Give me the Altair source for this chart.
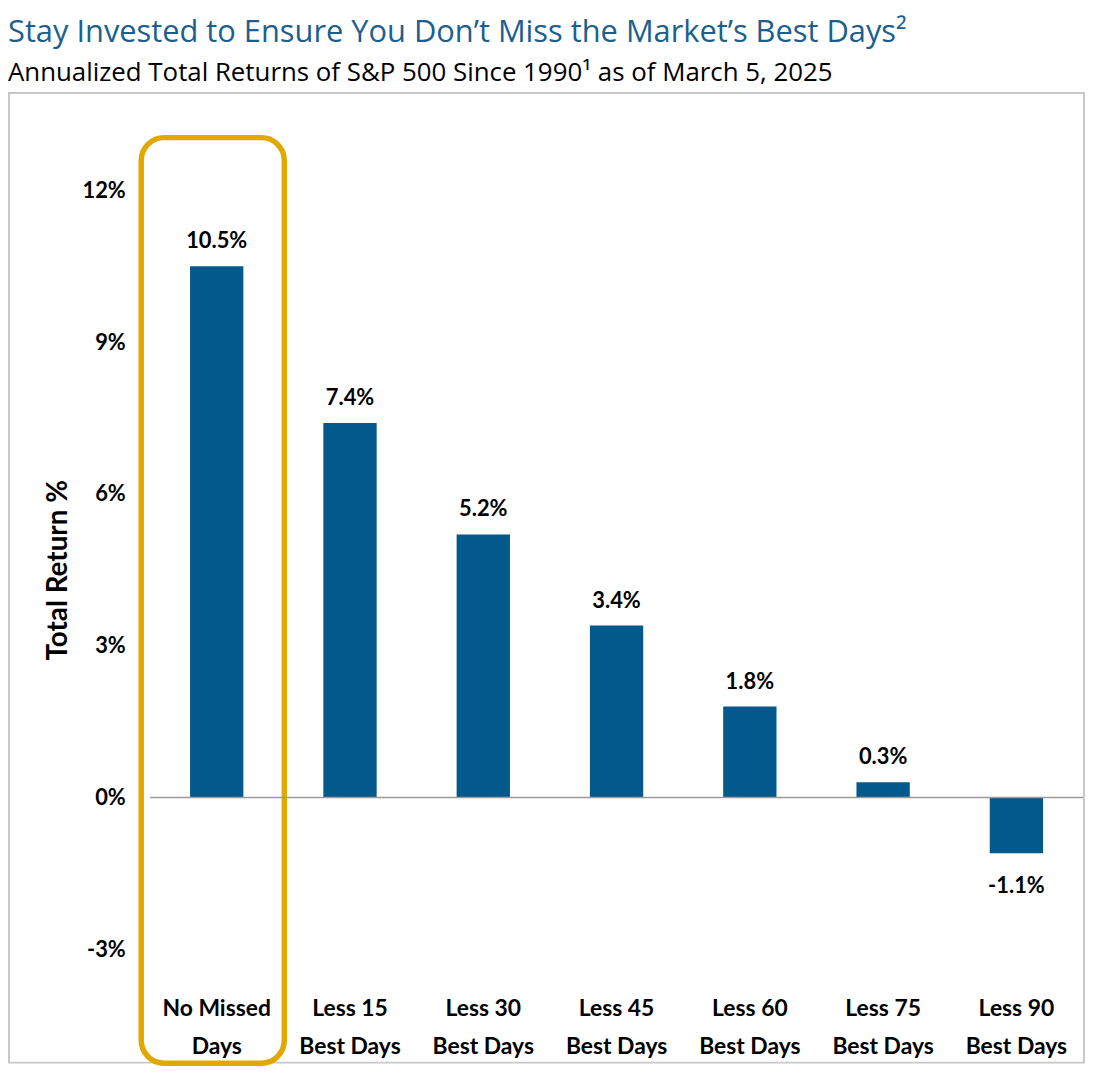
import altair as alt
import pandas as pd

categories = ["No Missed Days", "Less 15 Best Days", "Less 30 Best Days",
              "Less 45 Best Days", "Less 60 Best Days", "Less 75 Best Days",
              "Less 90 Best Days"]
returns = [10.5, 7.4, 5.2, 3.4, 1.8, 0.3, -1.1]
y_ticks = [-3, 0, 3, 6, 9, 12]

df = pd.DataFrame({"category": categories, "ret": returns})
df["label"] = [f"{v:.1f}%" for v in returns]

FONT = "Lato"
TFONT = "Open Sans"
BLUE = "#03598c"
GOLD = "#e0a800"
TITLE_BLUE = "#1c5f8e"

x_enc = alt.X(
    "category:N", sort=categories,
    scale=alt.Scale(paddingInner=0.6, paddingOuter=0.3),
    axis=alt.Axis(
        title=None, labelAngle=0, labelAlign="center", domain=False, ticks=False, grid=False,
        labelPadding=60, labelFontSize=23, labelFontWeight="bold",
        labelLineHeight=38, labelColor="black", labelFont=FONT,
        labelExpr="datum.label == 'No Missed Days' ? ['No Missed', 'Days'] : [replace(datum.label, ' Best Days', ''), 'Best Days']",
    ),
)
y_scale = alt.Scale(domain=[-3, 12], nice=False, zero=False)
y_enc = alt.Y(
    "ret:Q", scale=y_scale,
    axis=alt.Axis(
        title="Total Return %", values=y_ticks, labelExpr="datum.value + '%'",
        grid=False, domain=False, ticks=False, labelPadding=25,
        labelFontSize=22, labelFontWeight="bold", labelColor="black", labelFont=FONT,
        titleFontSize=28, titleFontWeight="bold", titleColor="black", titleFont=FONT,
        titlePadding=10,
    ),
)

base = alt.Chart(df)

bars = base.mark_bar(color=BLUE).encode(x=x_enc, y=y_enc)

zero = alt.Chart(pd.DataFrame({"z": [0]})).mark_rule(color="#9a9a9a", strokeWidth=1.5).encode(
    y=alt.Y("z:Q", scale=y_scale)
)

pos_labels = base.transform_filter("datum.ret >= 0").mark_text(
    baseline="alphabetic", dy=-18, fontSize=22, fontWeight="bold", font=FONT, color="black"
).encode(x=alt.X("category:N", sort=categories), y=alt.Y("ret:Q", scale=y_scale), text="label:N")

neg_labels = base.transform_filter("datum.ret < 0").mark_text(
    baseline="alphabetic", dy=40, fontSize=22, fontWeight="bold", font=FONT, color="black"
).encode(x=alt.X("category:N", sort=categories), y=alt.Y("ret:Q", scale=y_scale), text="label:N")

highlight = alt.Chart(pd.DataFrame({"category": [categories[0]], "top": [13.04], "bottom": [-5.25]})).mark_bar(
    width=144, cornerRadius=23, fillOpacity=0, stroke=GOLD, strokeWidth=5.5, xOffset=-4
).encode(
    x=alt.X("category:N", sort=categories),
    y=alt.Y("top:Q", scale=y_scale),
    y2="bottom:Q",
)

frame = alt.Chart(pd.DataFrame({"a": [0]})).mark_rect(
    fillOpacity=0, stroke="#c8c8c8", strokeWidth=2
).encode(
    x=alt.value(-142), x2=alt.value(940), y=alt.value(-98), y2=alt.value(878)
)

chart = alt.layer(frame, highlight, bars, zero, pos_labels, neg_labels).properties(
    width=939, height=764,
    background="white",
    padding={"left": 0, "top": 6, "right": 5, "bottom": 2},
    title=alt.TitleParams(
        text="Stay Invested to Ensure You Don\u2019t Miss the Market\u2019s Best Days\u00b2",
        subtitle="Annualized Total Returns of S&P 500 Since 1990\u00b9 as of March 5, 2025",
        anchor="start", frame="bounds", font=TFONT, fontSize=31, fontWeight="normal",
        color=TITLE_BLUE, subtitleFont=TFONT, subtitleFontSize=26, subtitleColor="black",
        subtitlePadding=11, offset=5,
    ),
).configure_view(strokeWidth=0, stroke="transparent")

chart.save("out.html", embed_options={"renderer": "svg", "actions": False})
